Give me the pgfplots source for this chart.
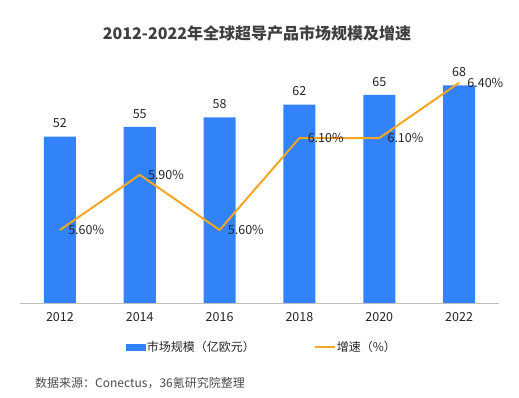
\documentclass[border=0pt]{standalone}
\usepackage{fontspec}
\setmainfont{Noto Sans CJK SC}
\usepackage{pgfplots}
\pgfplotsset{compat=1.18}
\definecolor{barblue}{HTML}{3283FA}
\definecolor{lineorange}{HTML}{F4A622}
\definecolor{txt}{HTML}{404040}
\definecolor{axgray}{HTML}{BFBFBF}
\begin{document}
\begin{tikzpicture}
\useasboundingbox[fill=white] (0pt,0pt) rectangle (519pt,398pt);
\begin{axis}[
  at={(20pt,95pt)}, anchor=south west, scale only axis,
  width=479pt, height=256pt,
  xmin=-0.5, xmax=5.5, ymin=0, ymax=80,
  axis x line*=bottom, axis y line=none,
  x axis line style={draw=axgray, line width=0.8pt, -},
  xtick={0,1,2,3,4,5},
  xticklabels={2012,2014,2016,2018,2020,2022},
  major tick length=0pt,
  xticklabel style={font=\fontsize{12.5}{14}\selectfont, color=black!85, yshift=-6pt},
  /pgf/number format/assume math mode=true,
  ybar, bar width=32pt,
  nodes near coords,
  nodes near coords style={font=\fontsize{12.5}{14}\selectfont, color=black!85, yshift=5pt},
  legend columns=2,
  legend style={at={(0.504,-0.172)}, anchor=center, draw=none, fill=none,
    font=\fontsize{12}{14}\selectfont, text=black!85,
    /tikz/every even column/.append style={column sep=58pt},
    nodes={inner sep=1pt}},
  legend cell align=left,
]
\addplot[fill=barblue, draw=none,
  legend image code/.code={\fill[barblue] (0pt,-3.5pt) rectangle (20pt,3.5pt);}]
  coordinates {(0,52) (1,55) (2,58) (3,62) (4,65) (5,68)};
\addlegendentry{市场规模（亿欧元）}
\addlegendimage{legend image code/.code={\draw[lineorange, line width=2pt] (0pt,0pt) -- (20pt,0pt);}}
\addlegendentry{增速（\%）}
\end{axis}
\begin{axis}[
  at={(20pt,95pt)}, anchor=south west, scale only axis,
  width=479pt, height=256pt,
  xmin=-0.5, xmax=5.5, ymin=5.203, ymax=6.595,
  hide axis,
  nodes near coords,
  point meta=explicit symbolic,
  nodes near coords style={font=\fontsize{12.5}{14}\selectfont, color=black!85, anchor=west, xshift=4pt},
]
\addplot[lineorange, line width=2pt, no marks]
  coordinates {(0,5.6) [5.60\%] (1,5.9) [5.90\%] (2,5.6) [5.60\%] (3,6.1) [6.10\%] (4,6.1) [6.10\%] (5,6.4) [6.40\%]};
\end{axis}
\node[font=\fontsize{16}{19}\selectfont\bfseries, text=txt] at (257pt,365pt) {2012-2022年全球超导产品市场规模及增速};
\node[font=\fontsize{12}{14}\selectfont, text=black!70, anchor=west, inner sep=0pt] at (35pt,15pt) {数据来源：Conectus，36氪研究院整理};
\end{tikzpicture}
\end{document}
